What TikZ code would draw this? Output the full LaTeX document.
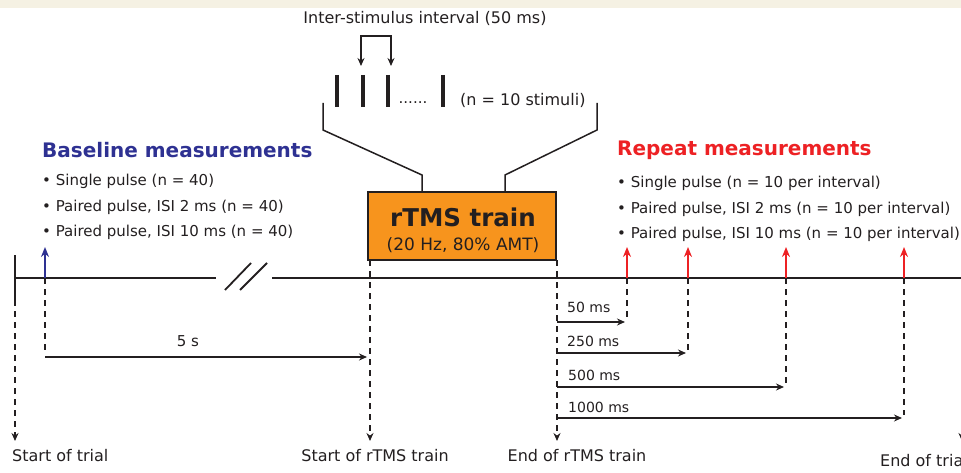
\documentclass[tikz,border=0pt]{standalone}
\usepackage{fontspec}
\setmainfont{DejaVu Sans}
\usetikzlibrary{arrows.meta,positioning}

\definecolor{stripbg}{HTML}{F5F1E3}
\definecolor{basecol}{HTML}{2E3192}
\definecolor{repcol}{HTML}{ED2124}
\definecolor{boxfill}{HTML}{F7941D}
\definecolor{inkcol}{HTML}{231F20}

\begin{document}
\begin{tikzpicture}[x=1pt,y=-1pt,
    txt/.style={font=\fontsize{15}{18}\selectfont,text=inkcol,inner sep=0pt},
    bigtxt/.style={font=\fontsize{16}{19}\selectfont,text=inkcol,inner sep=0pt},
    smalltxt/.style={font=\fontsize{14}{17}\selectfont,text=inkcol,inner sep=0pt,anchor=west},
    headtext/.style={font=\fontsize{20}{24}\selectfont\bfseries,inner sep=0pt,anchor=west},
    axisline/.style={line width=1.9pt,inkcol},
    dsh/.style={line width=1.8pt,inkcol,dash pattern=on 6pt off 5pt},
    arr/.style={-{Stealth[length=8pt,width=7pt]}},
    bigarr/.style={-{Stealth[length=10pt,width=8pt]}},
    stim/.style={line width=3.2pt,inkcol},
    brk/.style={line width=1.5pt,inkcol}
  ]
  \useasboundingbox (0,0) rectangle (961,473);
  \fill[stripbg] (0,0) rectangle (961,8);

  % stimulus train on top
  \node[bigtxt] (isi) at (425,18) {Inter-stimulus interval (50 ms)};
  \foreach \x/\n in {337/1,363/2,388/3,443/4} {
    \coordinate (s\n) at (\x,75);
    \draw[stim] (s\n) -- ++(0,32);
  }
  \draw[brk,{Stealth[length=8pt,width=7pt]}-{Stealth[length=8pt,width=7pt]}]
    (361,66) -- (361,36) -- (391,36) -- (391,66);
  \node[txt] (dots) at (413,103) {......};
  \node[bigtxt,anchor=west] (nstim) at (460,100) {(n = 10 stimuli)};

  % rTMS box with the funnel
  \node[draw=inkcol,fill=boxfill,line width=1.3pt,minimum width=188pt,minimum height=68pt]
    (rtms) at (462,226) {};
  \node[font=\fontsize{24.5}{28}\selectfont\bfseries,text=inkcol,inner sep=0pt]
    (rtmsname) at (463,217) {rTMS train};
  \node[font=\fontsize{17}{20}\selectfont,text=inkcol,inner sep=0pt]
    (rtmsset) at (463,245) {(20 Hz, 80\% AMT)};
  \coordinate (fl) at (422,192);
  \coordinate (fr) at (505,192);
  \draw[brk] (323,103) -- (323,130) -- (422,175) -- (fl);
  \draw[brk] (597,103) -- (597,130) -- (505,175) -- (fr);

  % measurement lists
  \node[headtext,text=basecol] (base) at (42,150) {Baseline measurements};
  \node[txt,anchor=west] (b1) at (42,181) {\textbullet\ Single pulse (n = 40)};
  \node[txt,anchor=west] (b2) at (42,207) {\textbullet\ Paired pulse, ISI 2 ms (n = 40)};
  \node[txt,anchor=west] (b3) at (42,232) {\textbullet\ Paired pulse, ISI 10 ms (n = 40)};

  \node[headtext,text=repcol] (rep) at (617,150) {Repeat measurements};
  \node[txt,anchor=west] (r1) at (617,183) {\textbullet\ Single pulse (n = 10 per interval)};
  \node[txt,anchor=west] (r2) at (617,209) {\textbullet\ Paired pulse, ISI 2 ms (n = 10 per interval)};
  \node[txt,anchor=west] (r3) at (617,234) {\textbullet\ Paired pulse, ISI 10 ms (n = 10 per interval)};

  % time line
  \coordinate (t0) at (15,278);
  \coordinate (cutL) at (216,278);
  \coordinate (cutR) at (272,278);
  \coordinate (tEnd) at (961,278);
  \coordinate (sr) at (370,260);
  \coordinate (er) at (557,260);

  % dashed markers down to the labels
  \draw[dsh,arr] (15,300) -- (15,441) coordinate (a0);
  \draw[dsh,arr] (sr) -- (370,441) coordinate (a1);
  \draw[dsh,arr] (er) -- (557,441) coordinate (a2);
  \draw[dsh,arr] (962,280) -- (962,441) coordinate (a3);
  \draw[dsh] (45,278) -- (45,354);
  \foreach \x/\y in {627/318,688/350,786/384,904/415}
    \draw[dsh] (\x,278) -- (\x,\y);

  \draw[axisline] (15,255) -- (15,300);
  \draw[axisline] (t0) -- (cutL);
  \draw[axisline] (cutR) -- (tEnd);
  \draw[line width=1.8pt,inkcol] (225,290) -- (251,263);
  \draw[line width=1.8pt,inkcol] (240,290) -- (267,263);

  % stimulus arrows
  \draw[bigarr,basecol,line width=2.2pt] (45,278) -- (45,247);
  \foreach \x in {627,688,786,904}
    \draw[bigarr,repcol,line width=2.2pt] (\x,278) -- (\x,247);

  % intervals
  \draw[arr,line width=1.8pt,inkcol] (45,357) -- (367,357);
  \node[txt] (five) at (188,341) {5 s};
  \draw[arr,line width=1.8pt,inkcol] (557,322) -- (625,322);
  \draw[arr,line width=1.8pt,inkcol] (557,353) -- (686,353);
  \draw[arr,line width=1.8pt,inkcol] (557,387) -- (784,387);
  \draw[arr,line width=1.8pt,inkcol] (557,418) -- (902,418);
  \node[smalltxt] (d50) at (567,307) {50 ms};
  \node[smalltxt] (d250) at (567,341) {250 ms};
  \node[smalltxt] (d500) at (568,375) {500 ms};
  \node[smalltxt] (d1000) at (568,407) {1000 ms};

  % bottom labels
  \node[bigtxt,anchor=north west] (lstart) at (12,449) {Start of trial};
  \node[bigtxt,anchor=north] (lrs) at (375,449) {Start of rTMS train};
  \node[bigtxt,anchor=north] (lre) at (577,449) {End of rTMS train};
  \node[bigtxt,anchor=north west] (lend) at (880,454) {End of trial};
\end{tikzpicture}
\end{document}
